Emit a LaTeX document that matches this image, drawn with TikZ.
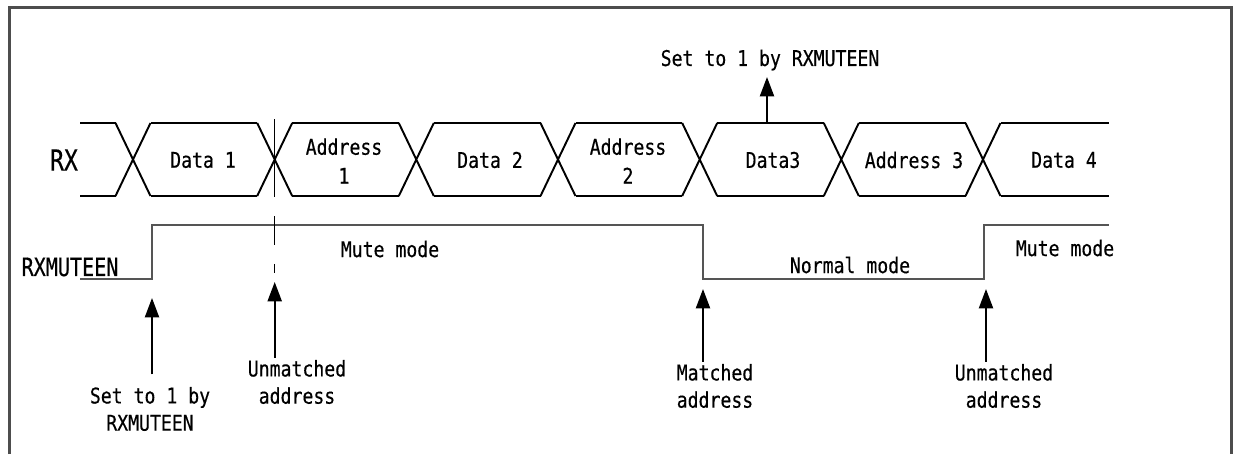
\documentclass[tikz,border=0pt]{standalone}
\usepackage{fontspec}
\newfontfamily\diagfont{DejaVu Sans Mono}[FakeStretch=0.84, FakeBold=0.4]
\newfontfamily\sigfont{DejaVu Sans Mono}[FakeStretch=0.8, FakeBold=0.4]
\usetikzlibrary{arrows.meta, calc, positioning}
\definecolor{tframe}{HTML}{4D4D4D}
\definecolor{tlevel}{HTML}{555555}
\tikzset{
  % cornice esterna (aperta in basso)
  tframebox/.style={draw=tframe, line width=1.4pt},
  % bus RX
  bus/.style={draw=black, line width=1.1pt},
  % livello del segnale RXMUTEEN
  siglevel/.style={draw=tlevel, line width=1.1pt},
  % etichette piccole
  lbl/.style={font=\diagfont\fontsize{12.3}{15.5}\selectfont, align=center, inner sep=1pt},
  % nomi dei segnali
  siglbl/.style={font=\sigfont\fontsize{14.3}{16}\selectfont, inner sep=1pt},
  % freccia di un evento
  evarrow/.style={-{Triangle[length=11pt, width=8pt]}, line width=1.1pt},
}
\begin{document}
\begin{tikzpicture}[x=0.02cm, y=-0.02cm]
  \useasboundingbox (0,0) rectangle (1235,454);
  \draw[tframebox] (9.5,454) -- (9.5,7.3) -- (1231.7,7.3) -- (1231.7,454);

  % bus RX
  \foreach \c in {133,274.7,416.3,558,699.7,841.3,983}{
    \draw[bus] (\c-17.5,123) -- (\c+17.5,196) (\c-17.5,196) -- (\c+17.5,123);
  }
  \foreach \i in {0,...,5}{
    \pgfmathsetmacro\ta{133+141.67*\i+17.5}
    \pgfmathsetmacro\tb{133+141.67*(\i+1)-17.5}
    \draw[bus] (\ta,123) -- (\tb,123) (\ta,196) -- (\tb,196);
  }
  \draw[bus] (80,123) -- (115.5,123) (80,196) -- (115.5,196);
  \draw[bus] (1000.5,123) -- (1109,123) (1000.5,196) -- (1109,196);

  \node[siglbl, font=\sigfont\fontsize{16.5}{18}\selectfont] (rx) at (64,160) {RX};
  \node[lbl] (d1) at (203,160) {Data 1};
  \node[lbl, font=\diagfont\fontsize{12.3}{16.5}\selectfont] (a1) at (344,161) {Address\\1};
  \node[lbl] (d2) at (490,160) {Data 2};
  \node[lbl, font=\diagfont\fontsize{12.3}{16.5}\selectfont] (a2) at (628,161) {Address\\2};
  \node[lbl] (d3) at (773,160) {Data3};
  \node[lbl] (a3) at (914,160) {Address 3};
  \node[lbl] (d4) at (1064,160) {Data 4};

  % segnale RXMUTEEN
  \draw[siglevel] (80,279) -- (152,279) -- (152,225) -- (703,225) -- (703,279)
    -- (984,279) -- (984,225) -- (1109,225);
  \node[siglbl] (mute) at (70,267) {RXMUTEEN};
  \node[lbl] (m1) at (390,249) {Mute mode};
  \node[lbl] (nm) at (850,265) {Normal mode};
  \node[lbl] (m2) at (1065,248) {Mute mode};

  % indirizzo non riconosciuto
  \draw[line width=0.9pt] (274.7,119) -- (274.7,197);
  \draw[line width=0.9pt, dash pattern=on 16.5pt off 10.8pt on 5pt off 30pt]
    (274.7,216) -- (274.7,276);

  % eventi
  \coordinate (e1) at (152,298);
  \coordinate (e2) at (274.7,282);
  \coordinate (e3) at (703,289);
  \coordinate (e4) at (986,289);
  \coordinate (e5) at (767,77);
  \coordinate (e5base) at (767,123);
  \node[lbl] (lset) at (150,409) {Set to 1 by\\RXMUTEEN};
  \node[lbl] (lunm1) at (297,382) {Unmatched\\address};
  \node[lbl] (lmat) at (715,386) {Matched\\address};
  \node[lbl] (lunm2) at (1004,386) {Unmatched\\address};
  \node[lbl] (ltop) at (770,60) {Set to 1 by RXMUTEEN};
  \draw[evarrow, shorten <=6pt] (lset.north -| e1) -- (e1);
  \draw[evarrow] (lunm1.north -| e2) -- (e2);
  \draw[evarrow] (lmat.north -| e3) -- (e3);
  \draw[evarrow] (lunm2.north -| e4) -- (e4);
  \draw[evarrow] (e5base) -- (e5);
\end{tikzpicture}
\end{document}
